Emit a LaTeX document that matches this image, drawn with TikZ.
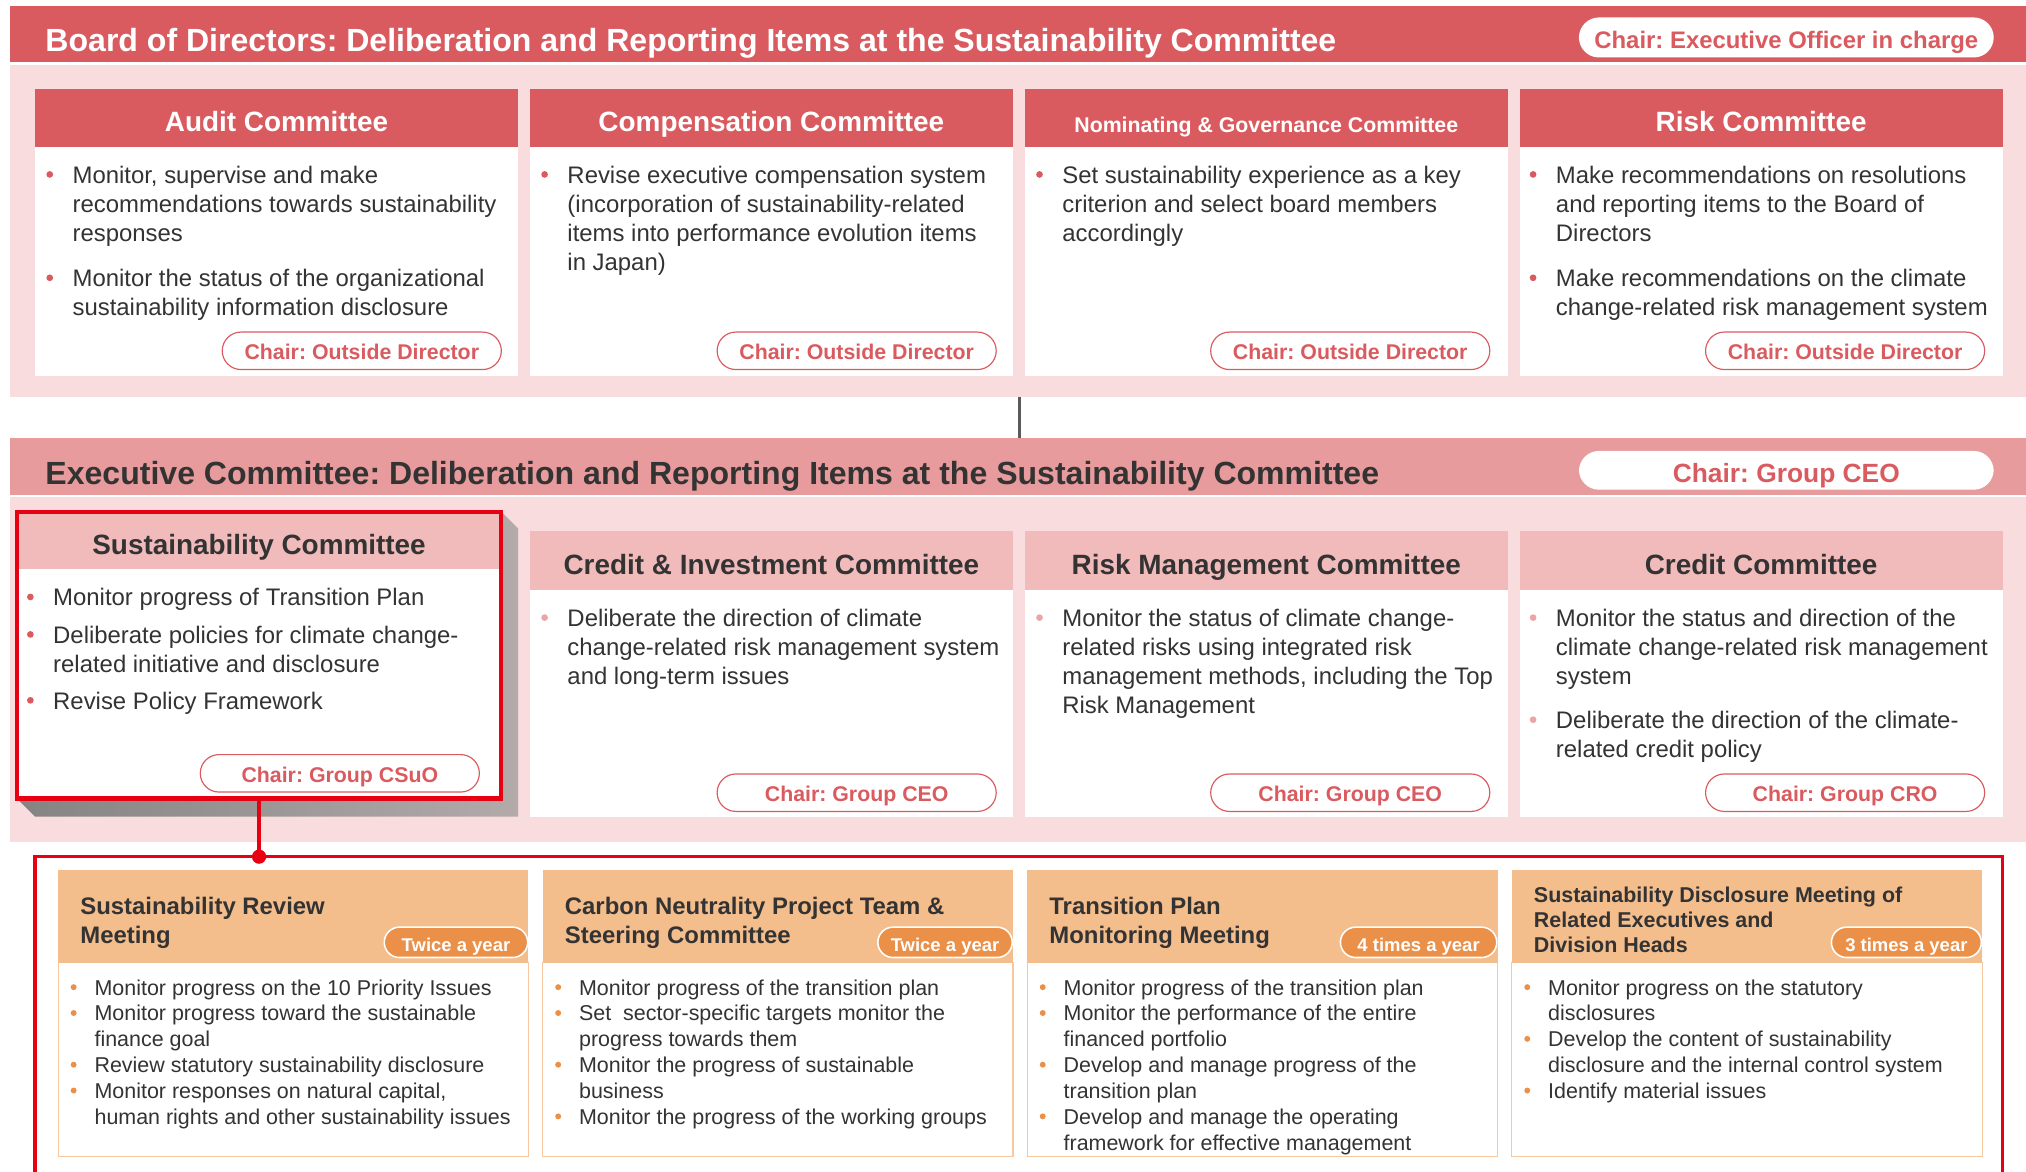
\documentclass[tikz,border=0pt]{standalone}
\usepackage{fontspec}
\setmainfont{Liberation Sans}
\usepackage{xcolor}
\usepackage{tikz}
\usetikzlibrary{positioning, calc}
\frenchspacing

\definecolor{bdred}{HTML}{DA5B5F}
\definecolor{bgpink}{HTML}{F8DCDE}
\definecolor{exhead}{HTML}{E89B9C}
\definecolor{exsub}{HTML}{F1BBBC}
\definecolor{exdot}{HTML}{EBA5A6}
\definecolor{hired}{HTML}{E60012}
\definecolor{orhead}{HTML}{F4BD8C}
\definecolor{orpill}{HTML}{EA9048}
\definecolor{orline}{HTML}{F6C8A0}
\definecolor{txtdark}{HTML}{333333}
\definecolor{shdark}{HTML}{858383}
\definecolor{shlight}{HTML}{B3AAAA}
\definecolor{greyline}{HTML}{5A5A5A}

\newcommand{\fbody}{\fontsize{18.5}{22.5}\selectfont}
\newcommand{\fmeet}{\fontsize{16.6}{20}\selectfont}

% voce con pallino: [colore]{nome}{x testo}{y centro riga}{testo}
\newcommand{\titem}[5][bdred]{%
  \fill[#1] (#3-17.5,#4) circle (2.6pt);
  \node[item text] (#2) at (#3,#4-9.15) {\strut#5};}
\newcommand{\mitem}[4]{%
  \fill[orpill] (#2-16,#3) circle (2.3pt);
  \node[meet text] (#1) at (#2,#3-8.06) {\strut#4};}

\tikzset{
  % Testi
  title text/.style={anchor=base west,inner sep=0,font=\bfseries\fontsize{24.8}{28}\selectfont},
  sub head/.style={anchor=base,inner sep=0,font=\bfseries\fontsize{21.6}{24}\selectfont},
  item text/.style={anchor=north west,inner sep=0,align=left,text=txtdark,font=\fbody},
  meet text/.style={item text,font=\fmeet},
  meet head/.style={item text,font=\bfseries\fontsize{18.5}{22.5}\selectfont},
  % Pillole
  pill chair/.style={draw=bdred,fill=white,line width=0.9,rounded corners=14.5,minimum width=216,
    minimum height=29,inner sep=0,text height=13.6,text depth=0,text=bdred,
    font=\bfseries\fontsize{16.5}{18}\selectfont},
  pill top/.style={pill chair,draw=none,minimum width=321,minimum height=31,rounded corners=15.5,
    text height=17.2,font=\bfseries\fontsize{18.5}{20}\selectfont},
  pill freq/.style={draw=white,fill=orpill,line width=1.2,rounded corners=11.75,anchor=east,
    minimum height=23.5,inner sep=0,text height=14.6,text depth=0,text=white,
    font=\bfseries\fontsize{14.3}{16}\selectfont},
  % Riquadri e collegamenti
  hi box/.style={draw=hired,line width=3.2,minimum width=375,minimum height=222,inner sep=0},
  hi line/.style={draw=hired,line width=2.6},
  connect grey/.style={draw=greyline,line width=2.5}
}

\begin{document}
\begin{tikzpicture}[x=1pt,y=-1pt]
  \useasboundingbox (0,0) rectangle (1568,907);
  \fill[white] (0,0) rectangle (1568,907);
  \clip (0,0) rectangle (1568,907);

  % Consiglio di amministrazione
  \fill[bgpink] (8,50) rectangle (1568,307);
  \fill[bdred] (8,5) rectangle (1568,48);
  \node[title text,text=white] (board) at (35,39.9)
    {Board of Directors: Deliberation and Reporting Items at the Sustainability Committee};
  \node[pill top] (bchair) at (1382.5,29) {Chair: Executive Officer in charge};

  \foreach \x in {27,410,793,1176}{
    \fill[white] (\x,69) rectangle ++(374,222);
    \fill[bdred] (\x,69) rectangle ++(374,45);
  }
  \node[sub head,text=white] (audit) at (214,101.7) {Audit Committee};
  \node[sub head,text=white] (comp) at (597,101.7) {Compensation Committee};
  \node[sub head,text=white,font=\bfseries\fontsize{16.5}{18}\selectfont] (nomin) at (980,102.9)
    {Nominating \& Governance Committee};
  \node[sub head,text=white] (risk) at (1363,101.7) {Risk Committee};

  \titem{au1}{56}{135}{Monitor, supervise and make\\recommendations towards sustainability\\responses}
  \titem{au2}{56}{215}{Monitor the status of the organizational\\sustainability information disclosure}
  \titem{co1}{439}{135}{Revise executive compensation system\\(incorporation of sustainability-related\\items into performance evolution items\\in Japan)}
  \titem{no1}{822}{135}{Set sustainability experience as a key\\criterion and select board members\\accordingly}
  \titem{ri1}{1204}{135}{Make recommendations on resolutions\\and reporting items to the Board of\\Directors}
  \titem{ri2}{1204}{215}{Make recommendations on the climate\\change-related risk management system}

  \node[pill chair] (auchair) at (280,271.5) {Chair: Outside Director};
  \node[pill chair] (cochair) at (663,271.5) {Chair: Outside Director};
  \node[pill chair] (nochair) at (1045,271.5) {Chair: Outside Director};
  \node[pill chair] (richair) at (1428,271.5) {Chair: Outside Director};

  % collegamento tra i due livelli
  \coordinate (ctop) at (789,307);
  \coordinate (cbot) at (789,339);
  \draw[connect grey] (ctop) -- (cbot);

  % Comitato esecutivo
  \fill[bgpink] (8,385) rectangle (1568,652);
  \fill[exhead] (8,339) rectangle (1568,383);
  \node[title text,text=txtdark] (exec) at (35,374.9)
    {Executive Committee: Deliberation and Reporting Items at the Sustainability Committee};
  \node[pill top,font=\bfseries\fontsize{20.4}{22}\selectfont,text height=18.6,minimum height=30]
    (echair) at (1382.5,364) {Chair: Group CEO};

  \foreach \x in {410,793,1176}{
    \fill[white] (\x,411) rectangle ++(374,221);
    \fill[exsub] (\x,411) rectangle ++(374,46);
  }
  % riquadro evidenziato con ombra
  \shade[left color=shdark,right color=shlight]
    (388,396) -- (401,409) -- (401,632) -- (27,632) -- (13,618) -- cycle;
  \fill[white] (13,396) rectangle (388,618);
  \fill[exsub] (13,396) rectangle (388,440);
  \node[hi box] (sust) at (200.5,507) {};

  \node[sub head,text=txtdark] (sushead) at (200.5,429) {Sustainability Committee};
  \node[sub head,text=txtdark] (cihead) at (597,444.7) {Credit \& Investment Committee};
  \node[sub head,text=txtdark] (rmhead) at (980,444.7) {Risk Management Committee};
  \node[sub head,text=txtdark] (crhead) at (1363,444.7) {Credit Committee};

  \titem{su1}{41}{462}{Monitor progress of Transition Plan}
  \titem{su2}{41}{491}{Deliberate policies for climate change-\\related initiative and disclosure}
  \titem{su3}{41}{542}{Revise Policy Framework}
  \titem[exdot]{ci1}{439}{478}{Deliberate the direction of climate\\change-related risk management system\\and long-term issues}
  \titem[exdot]{rm1}{822}{478}{Monitor the status of climate change-\\related risks using integrated risk\\management methods, including the Top\\Risk Management}
  \titem[exdot]{cr1}{1204}{478}{Monitor the status and direction of the\\climate change-related risk management\\system}
  \titem[exdot]{cr2}{1204}{557}{Deliberate the direction of the climate-\\related credit policy}

  \node[pill chair] (suchair) at (263,598.5) {Chair: Group CSuO};
  \node[pill chair] (cichair) at (663,613.5) {Chair: Group CEO};
  \node[pill chair] (rmchair) at (1045,613.5) {Chair: Group CEO};
  \node[pill chair] (crchair) at (1428,613.5) {Chair: Group CRO};

  % riunioni collegate al Sustainability Committee
  \coordinate (junc) at (200.5,663);
  \coordinate (frl) at (27,915);
  \coordinate (frr) at (1550,915);
  \draw[hi line] (sust.south) -- (junc);
  \draw[hi line] (frl) |- (junc) -| (frr);
  \fill[hired] (junc) circle (5.5pt);

  \foreach \x in {45,420,795,1170}{
    \draw[orline,fill=white,line width=0.8] (\x,745) rectangle ++(364,150);
    \fill[orhead] (\x,673) rectangle ++(364,72);
  }
  \node[meet head] (srm) at (62,691.85) {\strut Sustainability Review\\Meeting};
  \node[meet head] (cnp) at (437,691.85) {\strut Carbon Neutrality Project Team \&\\Steering Committee};
  \node[meet head] (tpm) at (812,691.85) {\strut Transition Plan\\Monitoring Meeting};
  \node[meet head,font=\bfseries\fontsize{16.6}{19.7}\selectfont] (sdm) at (1187,684.15)
    {\strut Sustainability Disclosure Meeting of\\Related Executives and\\Division Heads};

  \node[pill freq,minimum width=111] (srmf) at (409,729.3) {Twice a year};
  \node[pill freq,minimum width=104] (cnpf) at (784,729.3) {Twice a year};
  \node[pill freq,minimum width=121] (tpmf) at (1159,729.3) {4 times a year};
  \node[pill freq,minimum width=116] (sdmf) at (1534,729.3) {3 times a year};

  \mitem{m11}{73}{764}{Monitor progress on the 10 Priority Issues}
  \mitem{m12}{73}{784}{Monitor progress toward the sustainable\\finance goal}
  \mitem{m13}{73}{824}{Review statutory sustainability disclosure}
  \mitem{m14}{73}{844}{Monitor responses on natural capital,\\human rights and other sustainability issues}

  \mitem{m21}{448}{764}{Monitor progress of the transition plan}
  \mitem{m22}{448}{784}{Set~ sector-specific targets monitor the\\progress towards them}
  \mitem{m23}{448}{824}{Monitor the progress of sustainable\\business}
  \mitem{m24}{448}{864}{Monitor the progress of the working groups}

  \mitem{m31}{823}{764}{Monitor progress of the transition plan}
  \mitem{m32}{823}{784}{Monitor the performance of the entire\\financed portfolio}
  \mitem{m33}{823}{824}{Develop and manage progress of the\\transition plan}
  \mitem{m34}{823}{864}{Develop and manage the operating\\framework for effective management}

  \mitem{m41}{1198}{764}{Monitor progress on the statutory\\disclosures}
  \mitem{m42}{1198}{804}{Develop the content of sustainability\\disclosure and the internal control system}
  \mitem{m43}{1198}{844}{Identify material issues}
\end{tikzpicture}
\end{document}
